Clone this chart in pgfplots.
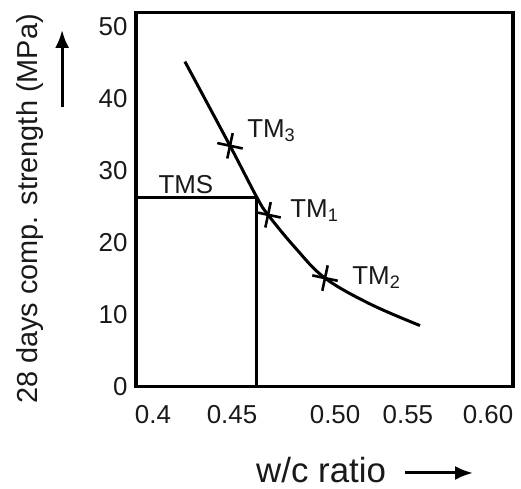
\documentclass[border=0pt]{standalone}
\usepackage{pgfplots}
\pgfplotsset{compat=1.18}
\usetikzlibrary{arrows.meta}
\usepackage{fontspec}
\setmainfont{Liberation Sans}
\begin{document}
\begin{tikzpicture}
\useasboundingbox (-68bp,-51.15bp) rectangle (192.5bp,193.35bp);
\begin{axis}[
  scale only axis, width=188.5bp, height=187bp,
  xmin=0.3899, xmax=0.6149, ymin=0, ymax=52,
  axis line style={line width=1.6bp},
  xtick={0.4,0.4472,0.5087,0.5522,0.6},
  xticklabels={0.4,0.45,0.50,0.55,0.60},
  ytick={0,10,20,30,40,50},
  yticklabels={0,10,20,30,40,50},
  major tick length=0,
  tick label style={font=\fontsize{13}{15}\selectfont, text=black!90},
  xticklabel style={yshift=-6bp},
  yticklabel style={xshift=-0.7bp},
  xlabel={w/c ratio},
  xlabel style={at={(axis description cs:0.491,-0.224)}, anchor=center, font=\fontsize{17.5}{20}\selectfont, text=black!90},
  ylabel={28 days comp. strength (MPa)},
  ylabel style={at={(axis description cs:-0.281,0.475)}, anchor=center, font=\fontsize{14.5}{17}\selectfont, text=black!90},
  clip=false,
]
% strength curve
\addplot[black, line width=1.5bp, smooth, tension=0.6] coordinates {
  (0.4191,45.2) (0.4460,33.5) (0.4621,26.3) (0.4687,23.9) (0.4850,19.3) (0.5027,15.1) (0.5296,11.5) (0.5594,8.5)
};
% TMS target lines
\addplot[black, line width=1.5bp] coordinates {(0.3899,26.3) (0.4621,26.3) (0.4621,0)};
% trial mixes
\addplot[only marks, black, mark=+, mark size=6.5bp, mark options={line width=1.3bp, rotate=-12}] coordinates {
  (0.4460,33.5) (0.4687,23.9) (0.5027,15.1)
};
\node[font=\fontsize{13}{15}\selectfont, text=black!90] at (axis cs:0.4197,28.1) {TMS};
\node[anchor=base west, inner sep=0pt, font=\fontsize{13}{15}\selectfont, text=black!90] at (axis cs:0.4561,34.7) {TM\textsubscript{3}};
\node[anchor=base west, inner sep=0pt, font=\fontsize{13}{15}\selectfont, text=black!90] at (axis cs:0.4818,23.5) {TM\textsubscript{1}};
\node[anchor=base west, inner sep=0pt, font=\fontsize{13}{15}\selectfont, text=black!90] at (axis cs:0.5188,14.2) {TM\textsubscript{2}};
\draw[line width=1.5bp, -{Latex[length=9bp,width=7bp]}] (axis description cs:0.7135,-0.2307) -- (axis description cs:0.894,-0.2307);
\draw[line width=1.5bp, -{Latex[length=9bp,width=7bp]}] (axis description cs:-0.196,0.748) -- (axis description cs:-0.196,0.954);
\end{axis}
\end{tikzpicture}
\end{document}
